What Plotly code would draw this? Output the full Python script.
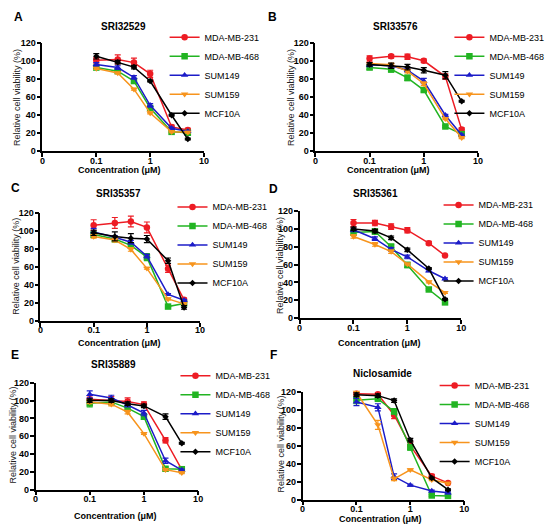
import plotly.graph_objects as go

# concentrations (uM) used in every panel
conc = [0.1, 0.25, 0.5, 1, 2.5, 5]
cell_lines = ["MDA-MB-231", "MDA-MB-468", "SUM149", "SUM159", "MCF10A"]
line_colors = ["#ed1c24", "#22b422", "#1c1cc8", "#f7941d", "#000000"]
line_symbols = ["circle", "square", "triangle-up", "triangle-down", "diamond"]
marker_sizes = [6.5, 6.5, 6.5, 6.5, 5]

# viability (%) per compound, rows follow cell_lines
sri32529 = [
    [101, 102, 98.5, 86, 27, 23.5],
    [93, 89, 78, 48, 21.5, 20.5],
    [96.5, 93, 82, 51, 25.5, 22],
    [92, 87, 69, 42.5, 21.5, 21],
    [105.5, 99, 93.5, 78, 40, 13.5],
]
sri33576 = [
    [103, 105.5, 105, 100.5, 83, 24],
    [93, 91, 81.5, 68, 27.5, 19],
    [96, 95, 90, 78, 40, 18],
    [97.5, 96, 89, 75, 36, 15],
    [96.5, 95, 93.5, 90, 84.5, 55.5],
]
sri35357 = [
    [106.5, 109, 110.5, 104, 58, 23.5],
    [96, 91, 84, 71, 16, 19.5],
    [99, 93, 87.5, 72, 29.5, 23],
    [94, 90, 79.5, 58.5, 24.5, 19],
    [98, 94, 92, 91, 67, 15],
]
sri35361 = [
    [106.5, 106.5, 102.5, 98.5, 84, 70],
    [96, 97, 80, 59.5, 32, 17.5],
    [99, 89, 77, 68.5, 53, 44],
    [91.5, 82.5, 74.5, 60.5, 40.5, 28.5],
    [100, 97.5, 90, 76.5, 55.5, 21],
]
sri35889 = [
    [101.5, 100.5, 99, 95.5, 55.5, 22.5],
    [97, 98.5, 91.5, 82, 23.5, 23],
    [107, 103, 95, 86, 32.5, 22],
    [98.5, 96, 87, 63, 22.5, 19],
    [100, 100, 96.5, 94, 82, 52],
]
niclosamide = [
    [117.5, 117, 94, 60, 26, 18.5],
    [110.5, 112, 98, 58, 4.5, 4],
    [108.5, 102.5, 25.5, 16, 9.5, 7.5],
    [119, 83, 23, 33, 22, 18],
    [116.5, 115.5, 110, 66, 24, 11],
]

# error bars (SD, %)
err_32529 = [[3, 5, 5, 4, 2, 2], [2, 2, 2, 2, 1, 1], [2, 2, 2, 2, 1, 1], [1, 1, 1, 1, 1, 1], [3, 2, 2, 1, 1, 1]]
err_33576 = [[3, 2, 3, 2, 3, 2], [2, 3, 3, 2, 1, 2], [2, 2, 2, 3, 1, 1], [1, 2, 2, 2, 1, 1], [2, 3, 3, 3, 4, 1]]
err_35357 = [[6, 6, 6, 6, 4, 2], [3, 3, 3, 4, 1, 1], [4, 2, 2, 2, 1, 1], [2, 2, 2, 1, 1, 1], [3, 5, 5, 4, 3, 2]]
err_35361 = [[4, 3, 3, 3, 2, 1], [3, 3, 3, 3, 1, 2], [2, 2, 2, 2, 1, 1], [2, 2, 2, 1, 1, 1], [2, 2, 2, 2, 1, 1]]
err_35889 = [[4, 4, 4, 3, 3, 2], [4, 3, 2, 3, 2, 1], [4, 3, 2, 3, 3, 1], [2, 2, 2, 1, 1, 1], [2, 2, 2, 2, 3, 1]]
err_niclo = [[2, 2, 4, 4, 2, 1], [4, 2, 3, 3, 1, 1], [4, 4, 3, 1, 1, 1], [2, 5, 2, 1, 1, 1], [2, 2, 2, 2, 1, 1]]

panel_letters = ["A", "B", "C", "D", "E", "F"]
panel_titles = ["SRI32529", "SRI33576", "SRI35357", "SRI35361", "SRI35889", "Niclosamide"]
panel_data = [sri32529, sri33576, sri35357, sri35361, sri35889, niclosamide]
panel_err = [err_32529, err_33576, err_35357, err_35361, err_35889, err_niclo]

W, H = 550, 532
# plot boxes in pixels: left, right, top(120), bottom(0)
boxes = [(40, 204, 39, 149), (317, 482, 39, 149),
         (38, 200, 212, 322), (301, 465, 210, 319),
         (33, 198, 385, 494), (304, 468, 394, 504)]
letter_pos = [(16, 12), (273, 12), (13, 187), (274, 188), (12, 357), (274, 357)]
title_pos = [(122, 22), (398, 22), (117, 192), (378, 192), (112, 366), (385, 376)]
ytitle_pos = [(14, 94), (292, 94), (13, 266), (281, 265), (10, 438), (282, 447)]
xtitle_pos = [(118, 168), (391, 168), (118, 344), (382, 344), (114, 521), (383, 524)]
# legend text left edge, first row centre
legend_pos = [(204, 40), (493, 40), (212, 213), (482, 211), (215, 385), (478, 395)]

FONT = "Liberation Sans"


def px(x):
    return x / W


def py(y):
    return 1 - y / H


fig = go.Figure()
annotations = []

for p in range(6):
    n = p + 1
    suffix = "" if n == 1 else str(n)
    legend_name = "legend" + suffix
    for i, name in enumerate(cell_lines):
        fig.add_trace(go.Scatter(
            x=conc, y=panel_data[p][i],
            error_y=dict(type="data", array=panel_err[p][i], color=line_colors[i],
                         thickness=1.2, width=3),
            mode="lines+markers", name=name,
            line=dict(color=line_colors[i], width=1.5),
            marker=dict(symbol=line_symbols[i], size=marker_sizes[i], color=line_colors[i]),
            xaxis="x" + suffix, yaxis="y" + suffix,
            legend=legend_name, cliponaxis=False,
        ))

    x0, x1, y0, y1 = boxes[p]
    axis_style = dict(showline=True, linecolor="black", linewidth=1.5, ticks="outside",
                      ticklen=4, tickwidth=1.5, tickcolor="black", showgrid=False,
                      zeroline=False,
                      tickfont=dict(family=FONT, size=9, color="black", weight="bold"))
    # plotly legend: text starts ~40px right of legend x, first row ~22px below top
    lx_text, ly_row = legend_pos[p]
    fig.update_layout({
        "xaxis" + suffix: dict(type="log", range=[-2, 1], domain=[px(x0), px(x1)],
                               anchor="y" + suffix, tickvals=[0.01, 0.1, 1, 10],
                               ticktext=["0", "0.1", "1", "10"], ticklabelstandoff=-4,
                               **axis_style),
        "yaxis" + suffix: dict(range=[0, 120], domain=[py(y1), py(y0)],
                               anchor="x" + suffix, tickvals=[0, 20, 40, 60, 80, 100, 120],
                               ticklabelstandoff=-1, **axis_style),
        legend_name: dict(x=px(lx_text - 40), y=py(ly_row - 22),
                          xanchor="left", yanchor="top", bgcolor="rgba(0,0,0,0)",
                          font=dict(family=FONT, size=9, color="black"),
                          tracegroupgap=0, itemwidth=30),
    })

    common = dict(xref="paper", yref="paper", showarrow=False,
                  xanchor="center", yanchor="middle")
    lx, ly = letter_pos[p]
    annotations.append(dict(text="<b>" + panel_letters[p] + "</b>", x=px(lx), y=py(ly),
                            font=dict(family=FONT, size=12, color="black"), **common))
    tx, ty = title_pos[p]
    annotations.append(dict(text="<b>" + panel_titles[p] + "</b>", x=px(tx), y=py(ty),
                            font=dict(family=FONT, size=10, color="black"), **common))
    ax, ay = ytitle_pos[p]
    annotations.append(dict(text="Relative cell viability (%)", x=px(ax), y=py(ay),
                            textangle=-90,
                            font=dict(family=FONT, size=9, color="#222222"), **common))
    bx, by = xtitle_pos[p]
    annotations.append(dict(text="<b>Concentration (μM)</b>", x=px(bx), y=py(by),
                            font=dict(family=FONT, size=9, color="black"), **common))

fig.update_layout(width=W, height=H, margin=dict(l=0, r=0, t=0, b=0),
                  plot_bgcolor="white", paper_bgcolor="white",
                  annotations=annotations)

fig.write_html("out.html", config={"displayModeBar": False},
               post_script="document.body.style.margin='0';")
